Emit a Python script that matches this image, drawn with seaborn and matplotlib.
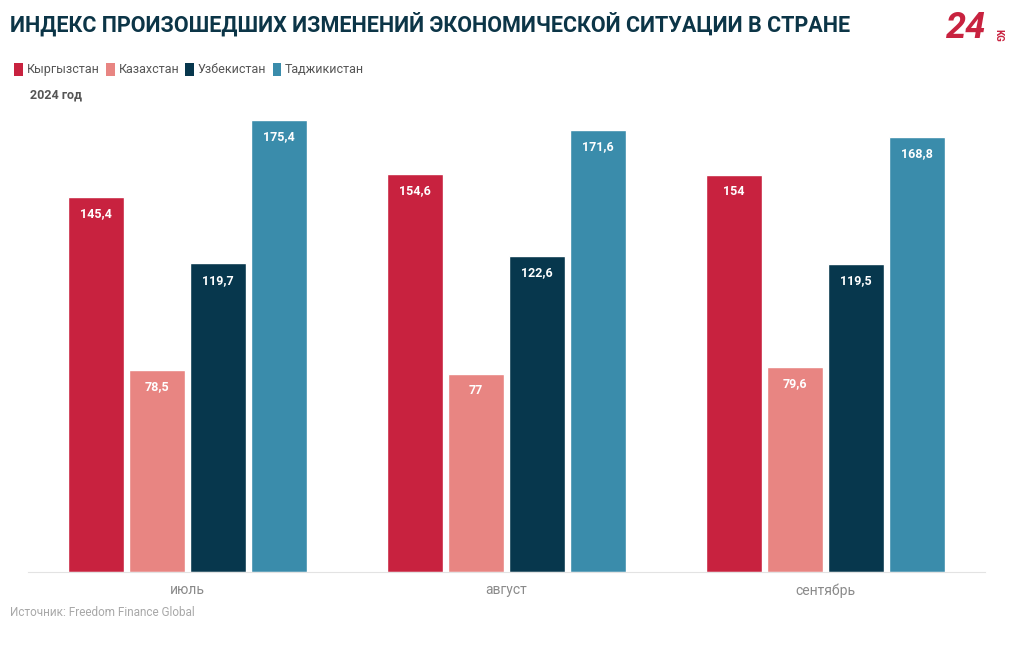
import pandas as pd
import numpy as np
import matplotlib.pyplot as plt
import seaborn as sns
from matplotlib.patches import Patch


months = ["июль", "август", "сентябрь"]
countries = ["Кыргызстан", "Казахстан", "Узбекистан", "Таджикистан"]
kyrgyzstan = [145.4, 154.6, 154]
kazakhstan = [78.5, 77, 79.6]
uzbekistan = [119.7, 122.6, 119.5]
tajikistan = [175.4, 171.6, 168.8]
colors = ["#c8223f", "#e88582", "#07374d", "#3a8cab"]

dataset = pd.DataFrame({
    "month": months * 4,
    "country": [c for c in countries for _ in months],
    "value": kyrgyzstan + kazakhstan + uzbekistan + tajikistan,
})

sns.set_style("white")
plt.rcParams["font.family"] = ["Roboto", "DejaVu Sans"]

fig = plt.figure(figsize=(10.2, 6.5), dpi=100)
ax = fig.add_axes([0.0275, 0.12, 0.938, 0.7138])

sns.barplot(data=dataset, x="month", y="value", hue="country", order=months,
            hue_order=countries, palette=colors, width=0.765, gap=0.08,
            saturation=1, legend=False, ax=ax)

# white labels inside the top of each bar
for cont in ax.containers:
    for bar in cont:
        h = bar.get_height()
        lab = ("%g" % h).replace(".", ",")
        ax.text(bar.get_x() + bar.get_width() / 2, h - 4, lab, ha="center", va="top",
                color="white", fontsize=9, fontweight="bold")

ax.set_xlim(-0.5, 2.5)
ax.set_ylim(0, 180)
ax.set_xlabel("")
ax.set_ylabel("")
ax.set_yticks([])
for s in ["top", "right", "left"]:
    ax.spines[s].set_visible(False)
ax.spines["bottom"].set_color("#e3e3e3")
ax.tick_params(axis="x", length=0, labelsize=10, labelcolor="#8a8a8a", pad=8)

fig.text(0.01, 0.963, "ИНДЕКС ПРОИЗОШЕДШИХ ИЗМЕНЕНИЙ ЭКОНОМИЧЕСКОЙ СИТУАЦИИ В СТРАНЕ",
         ha="left", va="center", fontsize=15.5, fontweight="bold", color="#0c3547")

handles = [Patch(facecolor=c, edgecolor="none") for c in colors]
fig.legend(handles, countries, loc="center left", bbox_to_anchor=(0.003, 0.893),
           ncol=4, frameon=False, fontsize=9, labelcolor="#555555",
           handlelength=0.7, handleheight=1.2, handletextpad=0.3, columnspacing=0.5)

fig.text(0.029, 0.854, "2024 год", ha="left", va="center", fontsize=9,
         fontweight="bold", color="#555555")

fig.text(0.01, 0.058, "Источник: Freedom Finance Global", ha="left", va="center",
         fontsize=8.5, color="#a8a8a8")

# logo
fig.text(0.947, 0.957, "24", ha="center", va="center", fontsize=26, fontweight="bold",
         fontstyle="italic", color="#c8223f")
fig.text(0.979, 0.945, "KG", ha="center", va="center", fontsize=7, fontweight="bold",
         color="#c8223f", rotation=-90)

plt.savefig("out.png", dpi=100)
